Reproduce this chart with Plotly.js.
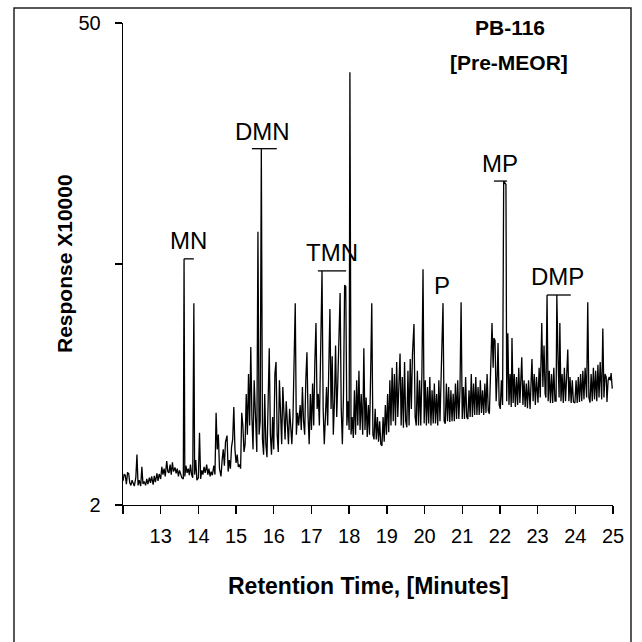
<!DOCTYPE html>
<html>
<head>
<meta charset="utf-8">
<script src="https://cdn.plot.ly/plotly-3.0.1.min.js"></script>
<style>html,body{margin:0;padding:0;background:#fff;}#chart{width:642px;height:642px;}</style>
</head>
<body>
<div id="chart"></div>
<script>
// Retention time (minutes) and response (x10000)
const timeA = [12.00,12.03,12.06,12.09,12.12,12.15,12.18,12.21,12.24,12.27,12.30,12.34,12.37,12.40,12.43,12.47,12.50,12.53,12.56,12.60,12.63,12.66,12.70,12.73,12.76,12.80,12.83,12.86,12.90,12.93,12.96,13.00,13.03,13.06,13.09,13.12,13.16,13.19,13.22,13.25,13.28,13.31,13.34,13.38,13.41,13.44,13.47,13.50,13.53,13.56,13.60,13.62,13.64,13.67,13.70,13.73,13.76,13.79,13.82,13.85,13.88,13.90,13.93,13.96,14.00,14.03,14.06,14.09,14.12,14.15,14.18,14.22,14.25,14.28,14.31,14.34,14.37,14.41,14.44,14.47,14.50,14.53,14.56,14.58,14.60,14.63,14.66,14.69,14.72,14.76,14.79,14.82,14.85,14.88,14.91,14.94,14.97,15.00,15.03,15.06,15.09,15.12,15.15,15.18,15.21];
const respA = [2.35,2.45,2.44,2.30,2.48,2.47,2.32,2.28,2.36,2.30,2.27,2.40,2.80,2.28,2.36,2.27,2.58,2.30,2.34,2.28,2.38,2.30,2.40,2.32,2.42,2.29,2.43,2.33,2.47,2.35,2.46,2.38,2.58,2.45,2.55,2.42,2.68,2.50,2.48,2.62,2.45,2.66,2.50,2.57,2.47,2.55,2.42,2.52,2.45,2.40,2.38,10.35,2.42,2.60,2.48,2.55,2.44,2.62,2.45,2.40,7.70,2.45,2.70,2.36,2.40,3.24,2.38,2.52,2.45,2.58,2.48,2.62,2.45,2.55,2.42,2.50,2.44,2.60,2.45,3.70,2.90,3.20,2.55,2.45,2.42,2.70,2.90,2.60,3.05,3.18,2.50,2.70,2.55,2.95,3.10,3.85,2.90,2.65,2.80,2.58,2.62,2.55,3.70,3.40,2.85];

const timeB = [15.24,15.27,15.30,15.33,15.36,15.39,15.42,15.45,15.48,15.51,15.55,15.58,15.61,15.64,15.67,15.70,15.73,15.76,15.79,15.82,15.85,15.88,15.91,15.94,15.97,16.00,16.03,16.06,16.09,16.12,16.15,16.18,16.21,16.24,16.27,16.30,16.33,16.36,16.39,16.42,16.45,16.48,16.51,16.54,16.57,16.60,16.63,16.66,16.70,16.73,16.76,16.79,16.82,16.85,16.88,16.91,16.94,16.97,17.00,17.03,17.06,17.09,17.12,17.15,17.18,17.21,17.24,17.28,17.31,17.34,17.37,17.40,17.43,17.46,17.49,17.52,17.55,17.58,17.61,17.64,17.67,17.70,17.73,17.76,17.79,17.82,17.85,17.88,17.91,17.94,17.97,18.00,18.02,18.05,18.08,18.11];
const respB = [3.00,4.20,3.20,4.80,3.40,5.74,3.60,2.90,4.60,3.80,2.85,12.4,3.20,3.50,21.6,3.10,2.80,4.20,3.00,2.75,4.40,5.70,3.20,2.80,3.60,2.90,4.80,5.20,3.20,2.85,4.60,3.80,3.00,4.40,3.60,3.10,4.00,3.40,3.00,3.80,3.20,3.00,3.60,4.80,7.70,3.20,3.70,3.40,3.90,3.30,4.40,3.50,3.20,4.60,5.55,3.60,3.00,4.20,3.30,4.50,3.40,5.20,6.74,3.80,4.20,3.40,5.00,9.55,3.80,3.00,3.60,4.40,3.40,5.40,7.41,3.80,5.40,3.20,4.00,5.80,3.60,4.60,6.20,8.24,3.80,3.00,4.20,8.69,8.60,3.40,4.00,3.30,36.0,3.20,3.60,3.13];

const timeC = [18.14,18.17,18.20,18.23,18.26,18.29,18.32,18.36,18.39,18.42,18.45,18.48,18.51,18.54,18.57,18.60,18.63,18.66,18.69,18.72,18.75,18.78,18.81,18.84,18.87,18.90,18.93,18.96,18.99,19.02,19.05,19.08,19.11,19.14,19.17,19.20,19.23,19.26,19.29,19.32,19.35,19.38,19.41,19.44,19.47,19.50,19.53,19.56,19.59,19.62,19.65,19.68,19.72,19.75,19.78,19.81,19.84,19.87,19.90,19.93,19.96,19.99,20.02,20.05,20.08,20.11,20.14,20.17,20.20,20.23,20.26,20.29,20.32,20.35,20.38,20.41,20.45,20.49,20.52,20.55,20.58,20.61,20.64,20.67,20.70,20.73,20.76,20.79,20.82,20.85,20.88,20.91,20.94,20.97,21.00,21.03,21.06,21.09,21.12,21.15,21.18,21.21,21.24,21.27,21.30,21.33,21.36,21.39,21.42,21.45,21.48,21.51,21.54,21.57,21.60,21.63,21.66,21.69,21.72,21.75,21.79,21.82,21.84,21.87,21.90,21.93,21.95,21.98];
const respC = [4.30,3.20,4.60,3.40,4.90,3.30,4.20,3.20,5.70,3.30,4.10,3.15,3.90,3.20,4.80,7.70,3.20,3.10,3.80,3.10,3.60,3.05,3.50,3.00,2.97,3.60,3.05,3.90,3.20,4.20,3.25,4.60,3.40,5.00,3.50,4.80,3.40,5.20,3.60,4.90,5.50,3.40,4.70,3.35,5.20,3.50,3.36,4.90,3.40,5.30,3.80,5.50,6.70,3.60,3.40,4.90,3.40,4.60,3.40,4.80,9.66,3.45,4.60,3.40,4.40,3.45,4.70,3.40,4.30,3.45,4.50,3.45,4.20,3.40,4.60,3.50,4.90,7.70,3.50,3.44,4.50,3.50,4.40,3.48,4.30,3.50,4.20,3.50,4.50,3.55,4.60,3.55,4.30,7.75,3.55,4.40,3.55,4.70,3.60,3.55,4.30,3.60,4.80,3.60,4.50,3.65,4.70,3.65,4.40,3.65,4.60,3.70,4.30,3.65,4.50,3.70,4.80,3.75,3.68,5.00,6.74,5.00,6.10,6.00,4.00,4.80,5.90,3.90];

const timeD = [22.01,22.04,22.07,22.10,22.16,22.18,22.21,22.24,22.27,22.30,22.32,22.35,22.38,22.41,22.44,22.47,22.50,22.53,22.58,22.61,22.64,22.67,22.70,22.73,22.76,22.80,22.85,22.88,22.91,22.94,22.97,23.01,23.04,23.07,23.11,23.14,23.17,23.20,23.22,23.25,23.28,23.31,23.34,23.37,23.40,23.43,23.46,23.49,23.51,23.54,23.57,23.59,23.62,23.65,23.68,23.71,23.74,23.77,23.80,23.83,23.86,23.89,23.92,23.95,23.99,24.02,24.05,24.08,24.11,24.14,24.17,24.20,24.23,24.26,24.30,24.33,24.36,24.39,24.42,24.45,24.48,24.51,24.54,24.57,24.60,24.63,24.66,24.70,24.73,24.76,24.79,24.82,24.84,24.87,24.90,24.93,24.95,24.98];
const respD = [3.80,4.60,3.90,17.4,17.0,4.00,6.30,3.90,4.80,3.85,6.10,3.95,4.80,3.85,4.70,3.90,5.00,3.95,5.36,3.90,4.60,3.85,4.50,3.82,4.60,3.80,5.30,4.00,4.80,3.90,4.70,3.96,5.00,4.10,6.74,4.40,5.80,4.20,4.10,8.13,4.00,4.90,3.95,4.80,3.95,5.00,4.00,4.00,8.13,5.40,4.10,6.74,4.00,4.80,3.95,5.00,4.00,4.70,5.65,4.00,4.70,3.95,4.60,3.98,3.95,4.60,3.95,4.70,3.98,4.80,4.00,4.90,4.05,5.00,4.10,7.75,4.10,3.96,4.80,4.00,5.00,4.05,4.90,4.00,5.10,4.10,5.20,4.05,6.50,4.10,4.80,4.70,3.98,4.60,4.70,4.60,4.83,4.35];

// Peak labels
const peakNames = ["MN","DMN","TMN","P","MP","DMP"];
const labelTime = [13.75,15.71,17.54,20.46,22.0,23.54];
const labelResp = [11.7,24.3,10.8,8.69,19.6,9.17];
// Label bars (peak markers): start time, end time, response level
const barStart = [13.62,15.42,17.17,null,21.84,23.25];
const barEnd   = [13.88,16.08,17.92,null,22.19,23.88];
const barLevel = [10.35,21.6,9.55,null,17.4,8.13];

const xTicks = [12,13,14,15,16,17,18,19,20,21,22,23,24,25];
const xTickText = ["","13","14","15","16","17","18","19","20","21","22","23","24","25"];
const yTicks = [2,10,50];
const yTickText = ["2","","50"];

const t = timeA.concat(timeB, timeC, timeD);
const r = respA.concat(respB, respC, respD);

const FONT = "Liberation Sans, Arial, Helvetica, sans-serif";
const L = 123, R = 613, T = 23, B = 505;
const px2paperX = p => (p - L) / (R - L);
const px2paperY = p => (B - p) / (B - T);

const annotations = peakNames.map((n,i)=>({
  x: labelTime[i], y: Math.log10(labelResp[i]), xref:'x', yref:'y', xanchor:'center', yanchor:'middle',
  text: n, showarrow:false, font:{family:FONT,size:24,color:'#000'}
}));
annotations.push({xref:'paper',yref:'paper',x:px2paperX(510),y:px2paperY(28),xanchor:'center',yanchor:'middle',text:'<b>PB-116</b>',showarrow:false,font:{family:FONT,size:21,color:'#000'}});
annotations.push({xref:'paper',yref:'paper',x:px2paperX(509),y:px2paperY(62),xanchor:'center',yanchor:'middle',text:'<b>[Pre-MEOR]</b>',showarrow:false,font:{family:FONT,size:21,color:'#000'}});
annotations.push({xref:'paper',yref:'paper',x:0.5,y:px2paperY(586),xanchor:'center',yanchor:'middle',text:'<b>Retention Time, [Minutes]</b>',showarrow:false,font:{family:FONT,size:23,color:'#000'}});
annotations.push({xref:'paper',yref:'paper',x:px2paperX(64),y:0.5,xanchor:'center',yanchor:'middle',textangle:-90,text:'<b>Response X10000</b>',showarrow:false,font:{family:FONT,size:21,color:'#000'}});

const shapes = [];
for (let i=0;i<peakNames.length;i++){
  if (barStart[i]===null) continue;
  shapes.push({type:'line',xref:'x',yref:'y',x0:barStart[i],x1:barEnd[i],y0:barLevel[i],y1:barLevel[i],line:{color:'#000',width:1.3}});
}
// outer frame
shapes.push({type:'rect',xref:'paper',yref:'paper',x0:px2paperX(14),x1:px2paperX(631),y0:px2paperY(680),y1:px2paperY(8),line:{color:'#222',width:1.5},fillcolor:'rgba(0,0,0,0)',layer:'above'});

Plotly.newPlot('chart',[{
  x:t, y:r, type:'scatter', mode:'lines', line:{color:'#000',width:1.3}, hoverinfo:'skip'
}],{
  width:642,height:642,
  margin:{l:L,r:642-R,t:T,b:642-B},
  paper_bgcolor:'#fff',plot_bgcolor:'#fff',
  showlegend:false,
  font:{family:FONT,color:'#000'},
  xaxis:{range:[12,25],tickvals:xTicks,ticktext:xTickText,ticks:'outside',ticklen:8,tickwidth:1.3,tickcolor:'#000',
    showline:true,linecolor:'#000',linewidth:1.3,showgrid:false,zeroline:false,
    tickfont:{family:FONT,size:20,color:'#000'},ticklabelstandoff:5},
  yaxis:{type:'log',range:[Math.log10(2),Math.log10(50)],tickvals:yTicks,ticktext:yTickText,ticks:'outside',ticklen:7,tickwidth:1.3,tickcolor:'#000',
    showline:true,linecolor:'#000',linewidth:1.3,showgrid:false,zeroline:false,
    tickfont:{family:FONT,size:20,color:'#000'},ticklabelstandoff:10},
  annotations:annotations,
  shapes:shapes
},{staticPlot:true,displayModeBar:false});
</script>
</body>
</html>
